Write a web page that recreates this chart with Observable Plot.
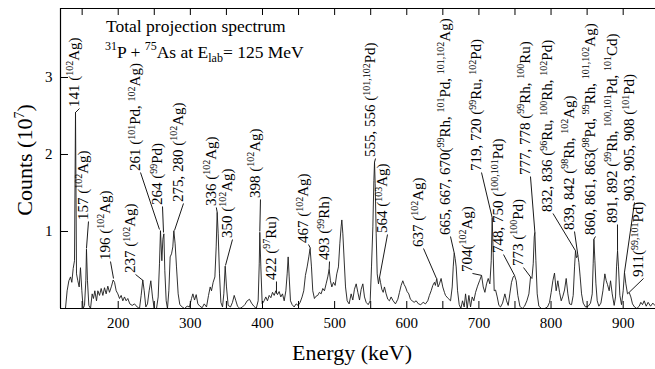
<!DOCTYPE html>
<html><head><meta charset="utf-8">
<script src="https://cdn.jsdelivr.net/npm/d3@7"></script>
<script src="https://cdn.jsdelivr.net/npm/@observablehq/plot@0.6"></script>
<style>
html,body{margin:0;padding:0;background:#fff;}
#chart{width:655px;height:369px;overflow:hidden;}
svg text{font-family:"Liberation Serif","Times New Roman",serif;white-space:pre;}
</style></head><body><div id="chart"></div><script>
// ---- spectrum (energy keV, counts in 10^7) ----
const energy = [120,126.9,129.2,131.6,133.9,135.7,137.6,139.4,140.8,142.2,144,145.9,147.7,149.6,151.4,153.3,155.1,156,157.4,159.3,161.6,163.9,165.7,167.6,169.9,171.8,174.1,176.4,178.7,181,183.3,185.6,187.9,190.7,193,194.9,197.2,199.5,201.8,204.1,206.4,208.7,211,213.3,216.1,219.4,222.6,226.3,229.5,231.8,234.1,236,238.3,240.6,242.9,245.2,247.5,249.9,253.1,255.4,257.2,258.6,260.5,261.9,263.3,264.6,266.5,268.3,270.2,272,273.9,275.7,277.1,278.9,280.8,283.1,285.4,288.7,291.9,295.6,298.8,301.6,303.5,305.8,308.1,310.4,313.2,316.4,319.2,322.4,325.2,327.5,329.3,331.6,334,335.8,337.2,338.6,340.4,342.3,344.6,346.4,348.3,350.1,352.4,355.7,358.4,360.8,363.1,365.4,368.6,372.3,375.5,378.8,382,384.8,388,391.3,394,395.5,396.3,397.7,399.6,402.3,404.6,406.9,409.3,411.6,413.9,416.2,418.5,420.8,423.1,425.4,427.7,430.1,432.4,434.2,435.6,437,438.8,441.1,443.9,446.6,449.4,452.2,454.9,457.2,459.5,461.9,464.2,466,467.9,469.7,472,474.3,476.6,478.9,481.3,483.6,485.9,488.2,490.5,492.4,494.2,496.1,498.4,500.7,503,505.3,507.2,509,510,511.4,513.2,515.1,517.4,520.1,522.9,525.2,527.5,529.9,532.2,534.5,536.8,539.1,541.4,543.7,546.5,549.3,551.1,553,554.4,555.3,556.2,557.6,559,560.8,562.2,563.6,565.4,567.3,569.1,571.4,573.7,576,578.3,581.1,584.3,587.6,589.9,592.2,594.5,596.4,598.2,600.5,602.8,605.1,607.5,610.2,613,616.2,619.4,622.7,625.9,629.1,631.4,633.8,636.1,638.4,639.7,641.6,643.4,645.3,647.6,649.9,652.2,653.7,657.4,660.7,663,664.4,665.8,667.1,668.5,670.4,672.7,675,677.3,679.6,681.5,683.8,686.1,688.4,690.7,693,695.4,698.1,700.9,703.7,706,708.3,710.6,712.9,715.2,717.1,718.4,719.8,721.2,723.1,725.4,727.7,730,732.8,736,738.3,740.6,742.9,745.2,747.5,749.4,751.7,754,756.8,760,763.3,766.5,769.3,771.6,773.5,775.3,776.7,777.6,779,780.8,783.1,786.8,791.4,795.1,797.9,800.2,802.5,804.8,807.1,809.4,811.8,814.1,816.4,818.7,821,823.3,825.6,828.4,830.7,832.6,833.9,835.3,837.2,838.6,840.4,842.3,844.6,847.8,851.5,854.7,857.1,858.4,859.4,860.8,862.2,864,866.3,869.1,871.9,874.6,876.5,878.3,880.6,882.5,884.8,887.5,889.4,890.8,892.2,893.5,895.4,897.7,900,901.8,903.7,906,908.3,910.6,912.9,915.7,918.9,922.2,924.5,926.8,929.1,931.9,934.6,937.9,941.1,943.9];
const counts = [0,0,.23,.36,.41,.34,.52,.62,2.55,.45,.36,.28,.53,.23,0,.04,.36,.77,.36,.04,0,.19,.13,.23,.1,.23,.17,.26,.17,.27,.19,.29,.21,.29,.37,.34,.23,.19,.13,.17,.1,.15,.1,.13,.06,.04,.06,.02,0,.17,.37,.23,.02,.06,.23,.36,.15,0,0,.15,.58,1.01,.62,.9,.97,.49,.1,0,.23,.67,.71,.8,1.01,.84,.54,.19,.05,.02,0,.03,.02,.13,.19,.11,.18,.06,.03,.01,.06,.02,.17,.28,.23,.34,.41,.8,1.25,.97,.45,.08,.02,.19,.55,.28,.04,.02,.08,.17,.1,.03,0,.02,.05,.1,.12,.07,.03,0,.1,.58,.99,.54,.06,.1,.15,.1,.17,.14,.21,.17,.23,.18,.22,.15,.19,.1,.23,.45,.67,.41,.1,.05,.02,.06,.04,.08,.15,.23,.43,.54,.67,.78,.54,.23,.13,.16,.17,.21,.19,.26,.23,.32,.41,.51,.36,.28,.34,.3,.45,.54,.84,1.06,1.15,.97,.63,.28,.1,.06,.19,.11,.25,.32,.21,.11,.25,.32,.15,.08,.05,.1,.54,1.06,1.66,1.9,1.62,.97,.45,.32,.41,.34,.25,.21,.28,.19,.12,.1,.15,.1,.06,.12,.21,.3,.36,.31,.28,.22,.19,.12,.1,.08,.1,.06,.05,.08,.06,.1,.17,.23,.3,.34,.3,.39,.28,.32,.39,.28,.21,.17,.13,.1,.28,.54,.72,.65,.54,.23,.05,0,.1,.02,.19,0,.17,.02,.15,.1,.21,.29,.36,.43,.28,.21,.32,.39,.32,.62,1.18,.71,.23,.24,.15,.04,.02,.07,.19,.1,.04,.19,.34,.41,.43,.36,.17,.03,0,.03,.1,.19,.41,.39,.58,.93,.99,.62,.19,.03,0,0,.02,.08,.21,.36,.46,.23,.36,.21,.1,.16,.24,.39,.19,.06,.05,.17,.54,.75,.66,.69,.6,.41,.19,.07,.02,.03,.07,.19,.58,.9,.62,.32,.1,.03,.07,.23,.45,.36,.31,.23,.36,.19,.04,.15,.54,.75,.54,.17,.05,.23,.47,.32,.19,.21,.15,.06,.02,0,.03,.08,.05,.1,.03,.08,.03,.07,.04];

// ---- axis ticks ----
const xTickLabels = [200,300,400,500,600,700,800,900];
const xMinorTicks = [150,200,250,300,350,400,450,500,550,600,650,700,750,800,850,900];
const yTickLabels = [1,2,3];

// ---- peak annotations ----
const peakLabels = [
 "141 (^{102}Ag)","157 (^{102}Ag)","196 (^{102}Ag)","237 (^{102}Ag)",
 "261 (^{101}Pd, ^{102}Ag)","264 (^{99}Pd)","275, 280 (^{102}Ag)","336 (^{102}Ag)",
 "350 (^{102}Ag)","398 (^{102}Ag)","422 (^{97}Ru)","467 (^{102}Ag)","493 (^{99}Rh)",
 "555, 556 (^{101,102}Pd)","564 (^{103}Ag)","637 (^{102}Ag)",
 "665, 667, 670(^{99}Rh, ^{101}Pd, ^{101,102}Ag)","704(^{102}Ag)",
 "719, 720 (^{99}Ru, ^{102}Pd)","748, 750 (^{100,101}Pd)","773 (^{100}Pd)",
 "777, 778 (^{99}Rh, ^{100}Ru)","832, 836 (^{96}Ru, ^{100}Rh, ^{102}Pd)",
 "839, 842 (^{98}Rh, ^{102}Ag)","860, 861, 863(^{98}Pd, ^{99}Rh, ^{101,102}Ag)",
 "891, 892 (^{99}Rh, ^{100,101}Pd, ^{101}Cd)","903, 905, 908 (^{101}Pd)","911(^{99,101}Pd)"];
const peakEnergy = [140.8,156.0,193.5,234.4,257.2,262.8,278.0,337.2,348.7,396.3,419.4,466.6,492.4,555.3,562.2,641.2,665.8,703.7,718.4,749.4,771.6,777.6,833.9,837.2,859.4,892.2,901.8,908.3];
const peakCounts = [2.545,0.779,0.39,0.364,1.026,0.987,1.013,1.25,0.558,1.0,0.195,0.78,0.51,1.90,0.40,0.39,0.72,0.43,1.18,0.43,0.41,0.99,0.75,0.69,0.90,0.75,0.47,0.21];
// where each label starts (energy of text column, count level of text start)
const labelEnergy = [146.3,158.8,189.3,224.0,230.9,261.4,290.5,336.0,358.4,397.2,419.4,463.8,492.9,556.7,573.3,623.2,660.6,691.1,703.6,734.1,761.8,771.5,802.7,832.5,861.6,892.1,915.7,928.2];
const labelCounts = [2.597,1.130,0.610,0.442,1.766,1.325,1.364,1.312,0.896,1.416,0.351,0.831,0.61,1.948,0.961,0.779,0.935,0.455,1.766,0.701,0.532,1.714,1.234,1.0,0.935,1.091,1.377,0.39];

const annotations = peakLabels.map((t,i)=>({t, pe: peakEnergy[i], pc: peakCounts[i], le: labelEnergy[i], lc: labelCounts[i]}));

const SERIF = '"Liberation Serif", "Times New Roman", serif';
const xDom = [120, 944.8], yDom = [0, 3.896];
const plot = Plot.plot({
  width: 655, height: 369,
  marginLeft: 60, marginRight: 0, marginTop: 8, marginBottom: 61,
  style: {fontFamily: SERIF, fontSize: "15px", background: "white", color: "black"},
  x: {domain: xDom},
  y: {domain: yDom},
  marks: [
    Plot.line(counts, {x: energy, y: counts, stroke: "#1a1a1a", strokeWidth: 0.9, curve: "linear"}),
    Plot.link(annotations, {x1: "pe", y1: "pc", x2: "le", y2: "lc", stroke: "#1a1a1a", strokeWidth: 1}),
    Plot.tickX(xMinorTicks, {x: d => d, insetTop: 293, stroke: "black"}),
    Plot.tickX(xMinorTicks, {x: d => d, insetBottom: 293, stroke: "black"}),
    Plot.tickY(yTickLabels, {y: d => d, insetRight: 587, stroke: "black"}),
    Plot.ruleY([yDom[0], yDom[1]], {stroke: "black", strokeWidth: 1.2}),
    Plot.ruleX([xDom[0]], {stroke: "black", strokeWidth: 1.2}),
    Plot.axisX({ticks: xTickLabels, tickSize: 0, tickPadding: 9, label: null, fontSize: 15, tickFormat: d3.format("d")}),
    Plot.axisY({ticks: yTickLabels, tickSize: 0, tickPadding: 8, label: null, fontSize: 15, tickFormat: d3.format("d")})
  ]
});
document.getElementById("chart").appendChild(plot);

const sx = plot.scale("x"), sy = plot.scale("y");
const svg = d3.select(plot);
svg.selectAll("text").attr("font-family", SERIF);

function rich(sel, str, fs, sfs, supShift, subShift) {
  const parts = str.match(/\^\{[^}]*\}|_\{[^}]*\}|[^\^_]+/g);
  let off = 0;
  for (const p of parts) {
    let target = 0, t = p, size = fs;
    if (p[0] === "^") { target = -supShift; t = p.slice(2, -1); size = sfs; }
    else if (p[0] === "_") { target = subShift; t = p.slice(2, -1); size = sfs; }
    sel.append("tspan").attr("dy", target - off).attr("font-size", size).text(t);
    off = target;
  }
}

const g = svg.append("g").attr("fill", "black").attr("font-family", SERIF).attr("text-anchor", "start");
for (const a of annotations) {
  const x = sx.apply(a.le), y = sy.apply(a.lc) - 1;
  const t = g.append("text")
    .attr("transform", `translate(${x},${y}) rotate(-90)`)
    .attr("text-anchor", "start").attr("font-size", 15);
  t.append("tspan").attr("dy", "0.35em").text("");
  rich(t, a.t, 15, 10, 5.5, 3);
}

// title block
g.append("text").attr("x", 106).attr("y", 32).attr("font-size", 17.5)
  .attr("text-anchor", "start").text("Total projection spectrum");
const t2 = g.append("text").attr("x", 105).attr("y", 57.5).attr("font-size", 17.5).attr("text-anchor", "start");
rich(t2, "^{31}P + ^{75}As at E_{lab}= 125 MeV", 17.5, 12, 7.5, 4.5);

// axis titles
g.append("text").attr("x", 352).attr("y", 360).attr("text-anchor", "middle")
  .attr("font-size", 22).text("Energy (keV)");
const yl = g.append("text").attr("transform", "translate(32,160) rotate(-90)")
  .attr("text-anchor", "middle").attr("font-size", 22);
rich(yl, "Counts (10^{7})", 22, 14, 8, 4);
</script></body></html>
